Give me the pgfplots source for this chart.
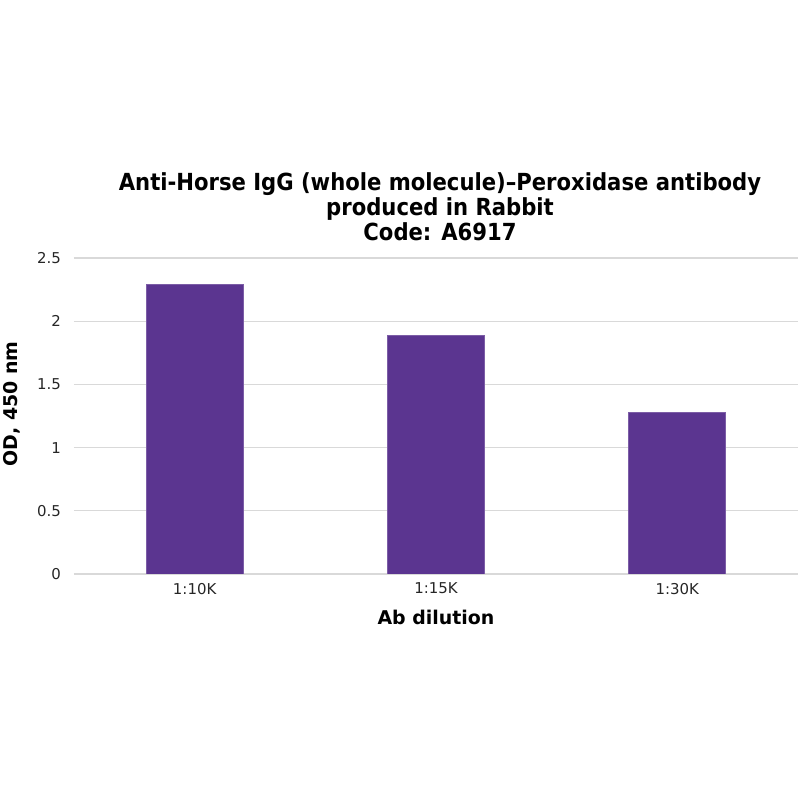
\documentclass[border=0pt]{standalone}
\usepackage{fontspec}
\setmainfont{DejaVu Sans}
\newfontfamily\titlefont{DejaVu Sans Condensed}
\usepackage{pgfplots}
\pgfplotsset{compat=1.18}
\definecolor{barpurple}{HTML}{5B3590}
\definecolor{gridgray}{HTML}{D9D9D9}
\begin{document}
\begin{tikzpicture}
\useasboundingbox (0,0) rectangle (400bp,400bp);
\begin{axis}[
  at={(37bp,113bp)}, anchor=south west,
  scale only axis,
  width=362bp, height=158bp,
  xmin=-0.5, xmax=2.5,
  ymin=0, ymax=2.5,
  ytick={0,0.5,1,1.5,2,2.5},
  yticklabels={0,0.5,1,1.5,2,2.5},
  xtick=data,
  xticklabels={1:10K,1:15K,1:30K},
  axis line style={draw=none},
  major tick length=0pt,
  ymajorgrids=true,
  grid style={gridgray, line width=0.6pt},
  tick label style={font=\fontsize{7.5}{9}\selectfont, text=black!85},
  yticklabel style={xshift=-3bp},
  xticklabel style={yshift=-1bp},
  xlabel={Ab dilution},
  ylabel={OD, 450 nm},
  label style={font=\fontsize{9.5}{11}\selectfont\bfseries},
  ylabel style={at={(axis description cs:-0.064,0.538)}, anchor=south},
  xlabel style={yshift=-1bp},
  title={Anti-Horse IgG (whole molecule)–Peroxidase antibody\\produced in Rabbit\\Code: A6917},
  title style={font=\titlefont\bfseries\fontsize{11.8}{12.5}\selectfont, align=center, xshift=2bp, yshift=-1bp},
  /pgf/number format/assume math mode=true,
]
\addplot[ybar, bar width=97bp/2, fill=barpurple, draw=barpurple!80!white]
  coordinates {(0,2.29) (1,1.89) (2,1.28)};
\end{axis}
\end{tikzpicture}
\end{document}
